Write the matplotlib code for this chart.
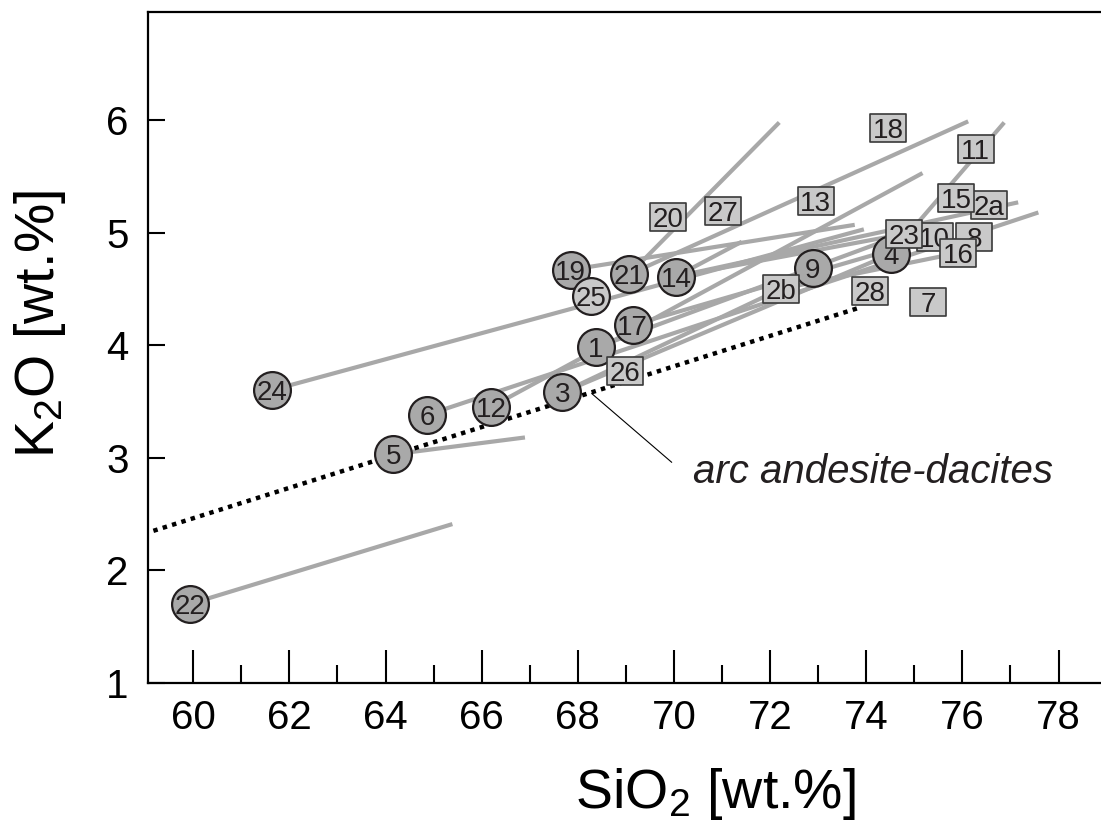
import numpy as np
import matplotlib
matplotlib.use('Agg')
import matplotlib.pyplot as plt
from matplotlib.path import Path

plt.rcParams['font.family'] = ['Liberation Sans', 'DejaVu Sans']
plt.rcParams['mathtext.fontset'] = 'custom'
plt.rcParams['mathtext.rm'] = 'Liberation Sans'
plt.rcParams['mathtext.it'] = 'Liberation Sans:italic'

# samples (drawing order = stacking order)
sample_ids = ['22', '24', '5', '6', '12', '3', '1', '17', '19', '25', '21', '14', '9', '4',
              '26', '2b', '28', '7', '20', '27', '13', '18', '11', '10', '8', '2a', '23', '16', '15']
sample_sio2 = [59.93, 61.63, 64.16, 64.86, 66.19, 67.68, 68.38, 69.14, 67.85, 68.27, 69.07, 70.04, 72.89, 74.51,
               68.99, 72.22, 74.08, 75.29, 69.87, 71.01, 72.95, 74.45, 76.28, 75.42, 76.25, 76.55, 74.79, 75.91, 75.87]
sample_k2o = [1.70, 3.60, 3.03, 3.38, 3.45, 3.58, 3.98, 4.18, 4.67, 4.44, 4.63, 4.61, 4.69, 4.81,
              3.77, 4.50, 4.48, 4.38, 5.14, 5.19, 5.28, 5.93, 5.74, 4.96, 4.96, 5.25, 4.99, 4.82, 5.31]
sample_kind = ['c'] * 9 + ['cl'] + ['c'] * 4 + ['s'] * 15

# trend lines: start sample -> end point
line_from = ['22', '5', '24', '19', '6', '12', '21', '21', '4', '14', '14', '14', '1', '17', '3', '3', '2b']
line_to_sio2 = [65.39, 66.90, 73.95, 73.76, 77.58, 75.17, 72.19, 76.12, 76.87, 77.16, 74.79, 71.41,
                74.79, 75.42, 74.51, 72.22, 75.91]
line_to_k2o = [2.41, 3.18, 5.03, 5.07, 5.18, 5.53, 5.98, 5.99, 5.98, 5.27, 4.99, 4.92,
               4.99, 4.96, 4.81, 4.50, 4.82]

# arc andesite-dacite trend
arc_sio2 = [59.17, 73.83]
arc_k2o = [2.35, 4.33]

xticks_major = [60, 62, 64, 66, 68, 70, 72, 74, 76, 78]
xticks_minor = [61, 63, 65, 67, 69, 71, 73, 75, 77]
yticks = [1, 2, 3, 4, 5, 6]

ink = '#231f20'
line_grey = '#a8a8a8'
dark_fill = '#a9a9a9'
light_fill = '#c9c9c9'

fig = plt.figure(figsize=(11.01, 8.21), dpi=100)
ax = fig.add_axes([148 / 1101, (821 - 682.7) / 821, (1101 - 148) / 1101, (682.7 - 12) / 821])

pos = {s: (x, y) for s, x, y in zip(sample_ids, sample_sio2, sample_k2o)}

for s, x1, y1 in zip(line_from, line_to_sio2, line_to_k2o):
    x0, y0 = pos[s]
    ax.plot([x0, x1], [y0, y1], color=line_grey, lw=3, solid_capstyle='butt', zorder=2)

ax.plot(arc_sio2, arc_k2o, color='black', lw=3.2, linestyle=(0, (1, 1.2)),
        dash_capstyle='butt', zorder=3)

box = Path([(-1, -0.8), (1, -0.8), (1, 0.8), (-1, 0.8), (-1, -0.8)],
           [Path.MOVETO, Path.LINETO, Path.LINETO, Path.LINETO, Path.CLOSEPOLY])

for i, (s, x, y, k) in enumerate(zip(sample_ids, sample_sio2, sample_k2o, sample_kind)):
    z = 10 + i * 0.2
    if k == 's':
        ax.plot(x, y, marker=box, ms=26, mfc=light_fill, mec='#3a3a3a', mew=1.2, zorder=z)
    else:
        fc = light_fill if k == 'cl' else dark_fill
        ax.plot(x, y, marker='o', ms=26.5, mfc=fc, mec=ink, mew=1.6, zorder=z)
    ax.text(x, y, s, fontsize=20, color=ink, ha='center', va='center_baseline', zorder=z + 0.1)

# annotation
ax.plot([68.29, 69.95], [3.57, 2.96], color='black', lw=0.8, zorder=4)
ax.text(70.40, 2.773, 'arc andesite-dacites', fontsize=29, style='italic', color=ink,
        ha='left', va='baseline', zorder=4)

ax.set_xlim(59.058, 78.883)
ax.set_ylim(1, 6.962)
ax.set_xticks(xticks_major)
ax.set_xticks(xticks_minor, minor=True)
ax.set_yticks(yticks)
ax.tick_params(axis='x', which='major', direction='in', length=24, width=1.5, pad=12, labelsize=29)
ax.tick_params(axis='x', which='minor', direction='in', length=13, width=1.5)
ax.tick_params(axis='y', which='major', direction='in', length=12, width=1.5, pad=14, labelsize=29)
ax.tick_params(axis='y', which='minor', left=False)

for sp in ['left', 'bottom', 'top']:
    ax.spines[sp].set_linewidth(1.6)
ax.spines['right'].set_visible(False)

fig.text(715.5 / 1101, 1 - 808 / 821, r'SiO$_2$ [wt.%]', fontsize=40, ha='center', va='baseline')
fig.text(40 / 1101, 1 - 324 / 821, r'K$_2$O [wt.%]', fontsize=40, ha='center', va='center',
         rotation=90)

plt.savefig('out.png', dpi=100)
